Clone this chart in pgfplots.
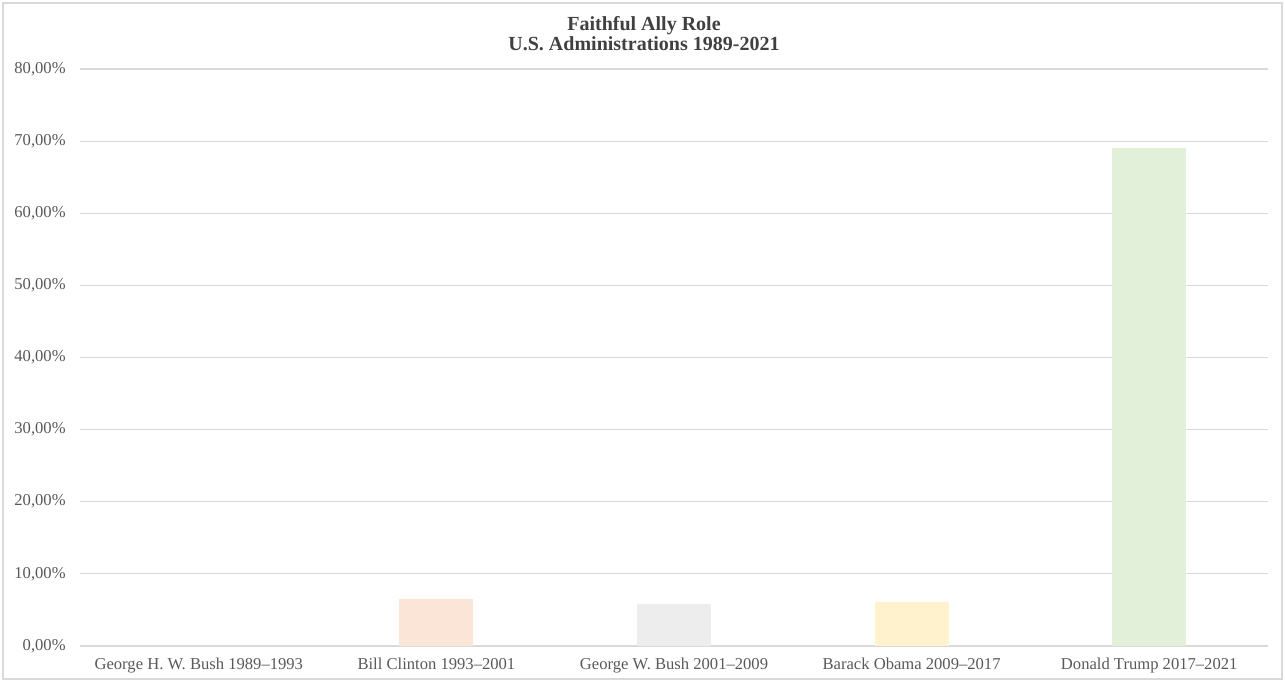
\documentclass[border=0pt]{standalone}
\usepackage{fontspec}
\setmainfont{Liberation Serif}
\usepackage{pgfplots}
\pgfplotsset{compat=1.18}
\definecolor{gridgray}{HTML}{D9D9D9}
\definecolor{labgray}{HTML}{595959}
\definecolor{titgray}{HTML}{404040}
\definecolor{cBlue}{HTML}{DEEBF7}
\definecolor{cPeach}{HTML}{FBE5D6}
\definecolor{cGray}{HTML}{EDEDED}
\definecolor{cYellow}{HTML}{FFF2CC}
\definecolor{cGreen}{HTML}{E2F0D9}
\begin{document}
\begin{tikzpicture}
\useasboundingbox (-40bp,-18bp) rectangle (602.5bp,323bp);
\draw[gridgray, line width=0.6bp] (-38.5bp,-16.5bp) rectangle (601bp,321.5bp);
\begin{axis}[
  at={(0,0)}, anchor=south west,
  scale only axis, width=594bp, height=288.5bp,
  ybar, bar width=37bp, bar shift=0pt,
  xmin=-0.5, xmax=4.5, ymin=0, ymax=80,
  xtick={0,1,2,3,4},
  xticklabels={George H. W. Bush 1989–1993, Bill Clinton 1993–2001, George W. Bush 2001–2009, Barack Obama 2009–2017, Donald Trump 2017–2021},
  ytick={0,10,...,80},
  axis line style={draw=none},
  major tick length=0pt,
  ymajorgrids, grid style={gridgray, line width=0.6bp},
  /pgf/number format/assume math mode=true,
  yticklabel={\pgfmathprintnumber[fixed, fixed zerofill, precision=2, use comma]{\tick}\%},
  ticklabel style={font=\fontsize{8.3bp}{10bp}\selectfont, text=labgray, inner sep=0pt},
  xticklabel style={anchor=base, yshift=-11.5bp},
  yticklabel style={anchor=east, xshift=-7bp},
  title={Faithful Ally Role\\U.S. Administrations 1989-2021},
  title style={at={(0.5,1)}, anchor=center, yshift=11.75bp, xshift=-15bp, align=center,
    font=\fontsize{10bp}{10bp}\selectfont\bfseries, text=titgray},
]
\addplot[fill=cBlue, draw=none] coordinates {(0,0)};
\addplot[fill=cPeach, draw=none] coordinates {(1,6.5)};
\addplot[fill=cGray, draw=none] coordinates {(2,5.8)};
\addplot[fill=cYellow, draw=none] coordinates {(3,6.1)};
\addplot[fill=cGreen, draw=none] coordinates {(4,69.1)};
\end{axis}
\end{tikzpicture}
\end{document}
